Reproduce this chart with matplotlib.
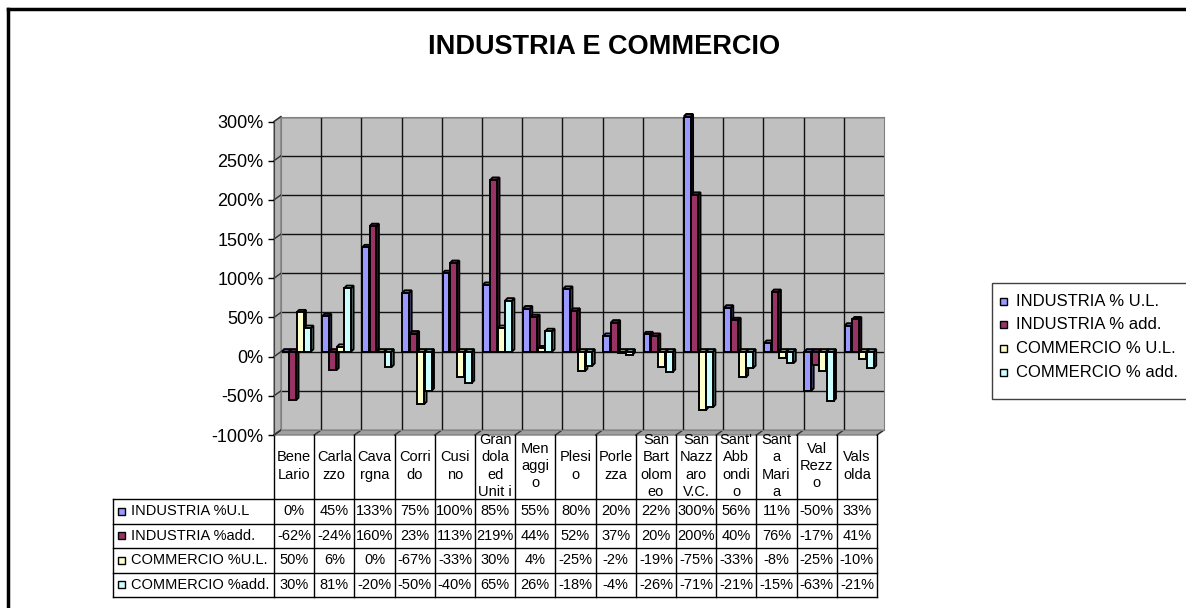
import numpy as np
import matplotlib.pyplot as plt
from matplotlib.patches import Rectangle, Polygon

plt.rcParams['font.family'] = ['Liberation Sans', 'DejaVu Sans']

# comuni, as they are wrapped in the chart's data table
comuni = ['Bene\nLario', 'Carla\nzzo', 'Cava\nrgna', 'Corri\ndo', 'Cusi\nno',
          'Gran\ndola\ned\nUnit i', 'Men\naggi\no', 'Plesi\no', 'Porle\nzza',
          'San\nBart\nolom\neo', 'San\nNazz\naro\nV.C.', "Sant'\nAbb\nondi\no",
          'Sant\na\nMari\na', 'Val\nRezz\no', 'Vals\nolda']

ind_ul = [0, 45, 133, 75, 100, 85, 55, 80, 20, 22, 300, 56, 11, -50, 33]
ind_add = [-62, -24, 160, 23, 113, 219, 44, 52, 37, 20, 200, 40, 76, -17, 41]
com_ul = [50, 6, 0, -67, -33, 30, 4, -25, -2, -19, -75, -33, -8, -25, -10]
com_add = [30, 81, -20, -50, -40, 65, 26, -18, -4, -26, -71, -21, -15, -63, -21]

legend_labels = ['INDUSTRIA % U.L.', 'INDUSTRIA % add.', 'COMMERCIO % U.L.', 'COMMERCIO % add.']
row_labels = ['INDUSTRIA %U.L', 'INDUSTRIA %add.', 'COMMERCIO %U.L.', 'COMMERCIO %add.']
y_ticks = [-100, -50, 0, 50, 100, 150, 200, 250, 300]

series = [ind_ul, ind_add, com_ul, com_add]
face = ['#9999FF', '#993366', '#FFFFCC', '#CCFFFF']
side = ['#7070C8', '#6E2249', '#C8C89C', '#96C4C4']

W, H = 1186, 608
fig = plt.figure(figsize=(W / 100, H / 100), dpi=100)


def rect(x0, y0, x1, y1):
    return [x0 / W, 1 - y1 / H, (x1 - x0) / W, (y1 - y0) / H]


# pixel geometry of the fake 3D box
fx0, fx1, fy0, fy1 = 274, 877, 121.5, 435      # front (axis) plane
bx0, bx1, by0, by1 = 281, 884, 116.5, 430      # back wall
n = len(comuni)
colw = (fx1 - fx0) / n

over = fig.add_axes([0, 0, 1, 1], zorder=0)
over.set_xlim(0, W)
over.set_ylim(H, 0)
over.axis('off')

back = fig.add_axes(rect(bx0, by0, bx1, by1), zorder=1)
front = fig.add_axes(rect(fx0, fy0, fx1, fy1), zorder=2)

# back wall
back.set_facecolor('#C0C0C0')
back.set_xlim(-0.5, n - 0.5)
back.set_ylim(-1, 3)
back.set_yticks(np.array(y_ticks) / 100)
back.set_axisbelow(True)
back.grid(axis='y', color='#111111', lw=1)
back.vlines(np.arange(n - 1) + 0.5, -1, 3, color='#111111', lw=1, zorder=1)
back.tick_params(left=False, labelleft=False, bottom=False, labelbottom=False)
for s in back.spines.values():
    s.set_color('#808080')

# 3D-looking bars
w, step, dx = 0.17, 0.185, 0.06
dy = 2.5 / ((by1 - by0) / 4)
for k, vals in enumerate(series):
    v = np.array(vals) / 100
    x = np.arange(n) - 0.5 + 0.02 + k * step
    for xi, vi in zip(x, v):
        lo, hi = min(vi, 0), max(vi, 0)
        back.add_patch(Polygon([(xi + w, lo), (xi + w + dx, lo + dy), (xi + w + dx, hi + dy), (xi + w, hi)],
                               fc=side[k], ec='k', lw=1.4, zorder=3 + k, clip_on=False))
        back.add_patch(Polygon([(xi, hi), (xi + dx, hi + dy), (xi + w + dx, hi + dy), (xi + w, hi)],
                               fc=face[k], ec='k', lw=1.4, zorder=3 + k, clip_on=False))
    back.bar(x, v, width=w, align='edge', color=face[k], edgecolor='k', lw=1.4, zorder=3 + k)

# front axis with tick labels
front.set_facecolor('none')
front.set_ylim(-1, 3)
front.set_xticks([])
front.set_yticks(np.array(y_ticks) / 100)
front.set_yticklabels([f'{t}%' for t in y_ticks], fontsize=13)
front.tick_params(axis='y', direction='out', length=4.5, width=1, pad=3)
for name, s in front.spines.items():
    s.set_visible(name == 'left')
front.spines['left'].set_color('#404040')

# left wall and floor
over.add_patch(Polygon([(fx0, fy0), (bx0, by0), (bx0, by1), (fx0, fy1)], fc='#B2B2B2', ec='#808080', lw=1))
over.add_patch(Polygon([(fx0, fy1), (bx0, by1), (bx1, by1), (fx1, fy1)], fc='#A0A0A0', ec='#808080', lw=1))
for t in y_ticks:
    f = (t + 100) / 400
    over.plot([fx0, bx0], [fy1 - f * (fy1 - fy0), by1 - f * (by1 - by0)], color='#303030', lw=1)
for j in range(n + 1):
    over.plot([fx0 + j * colw, bx0 + j * colw], [fy1, by1], color='#303030', lw=1)

# data table
lx0 = 113
hy0, hy1 = fy1, 499
rowh = 24.5
rows_y = [hy1 + i * rowh for i in range(len(series) + 1)]
for j in range(n + 1):
    over.plot([fx0 + j * colw] * 2, [hy0, rows_y[-1]], color='k', lw=1)
over.plot([lx0, lx0], [hy1, rows_y[-1]], color='k', lw=1)
for yy in rows_y:
    over.plot([lx0, fx1], [yy, yy], color='k', lw=1)

clip = Rectangle((fx0, hy0), fx1 - fx0, hy1 - hy0, transform=over.transData)
for j, name in enumerate(comuni):
    t = over.text(fx0 + (j + 0.5) * colw, (hy0 + hy1) / 2 - 1, name, ha='center', va='center',
                  fontsize=10.5, linespacing=1.3)
    t.set_clip_path(clip)

for i, vals in enumerate(series):
    yc = rows_y[i] + rowh / 2
    over.add_patch(Rectangle((lx0 + 5, yc - 3.5), 7, 7, fc=face[i], ec='k', lw=1))
    over.text(lx0 + 18, yc, row_labels[i], ha='left', va='center', fontsize=10.5)
    for j, v in enumerate(vals):
        over.text(fx0 + (j + 0.5) * colw, yc, f'{v}%', ha='center', va='center', fontsize=10.5)

# legend
over.add_patch(Rectangle((992, 283), 220, 116, fc='white', ec='#404040', lw=1))
for i, lab in enumerate(legend_labels):
    yc = 301 + i * 23.8
    over.add_patch(Rectangle((1000, yc - 3.5), 7, 7, fc=face[i], ec='k', lw=1))
    over.text(1016, yc, lab, ha='left', va='center', fontsize=12)

# outer frame and title
over.plot([8, 8], [9, H + 5], color='k', lw=2.5)
over.plot([8, W + 5], [9, 9], color='k', lw=2.5)
over.text(604, 47, 'INDUSTRIA E COMMERCIO', ha='center', va='center', fontsize=19.5, weight='bold')

fig.savefig('out.png', dpi=100)
